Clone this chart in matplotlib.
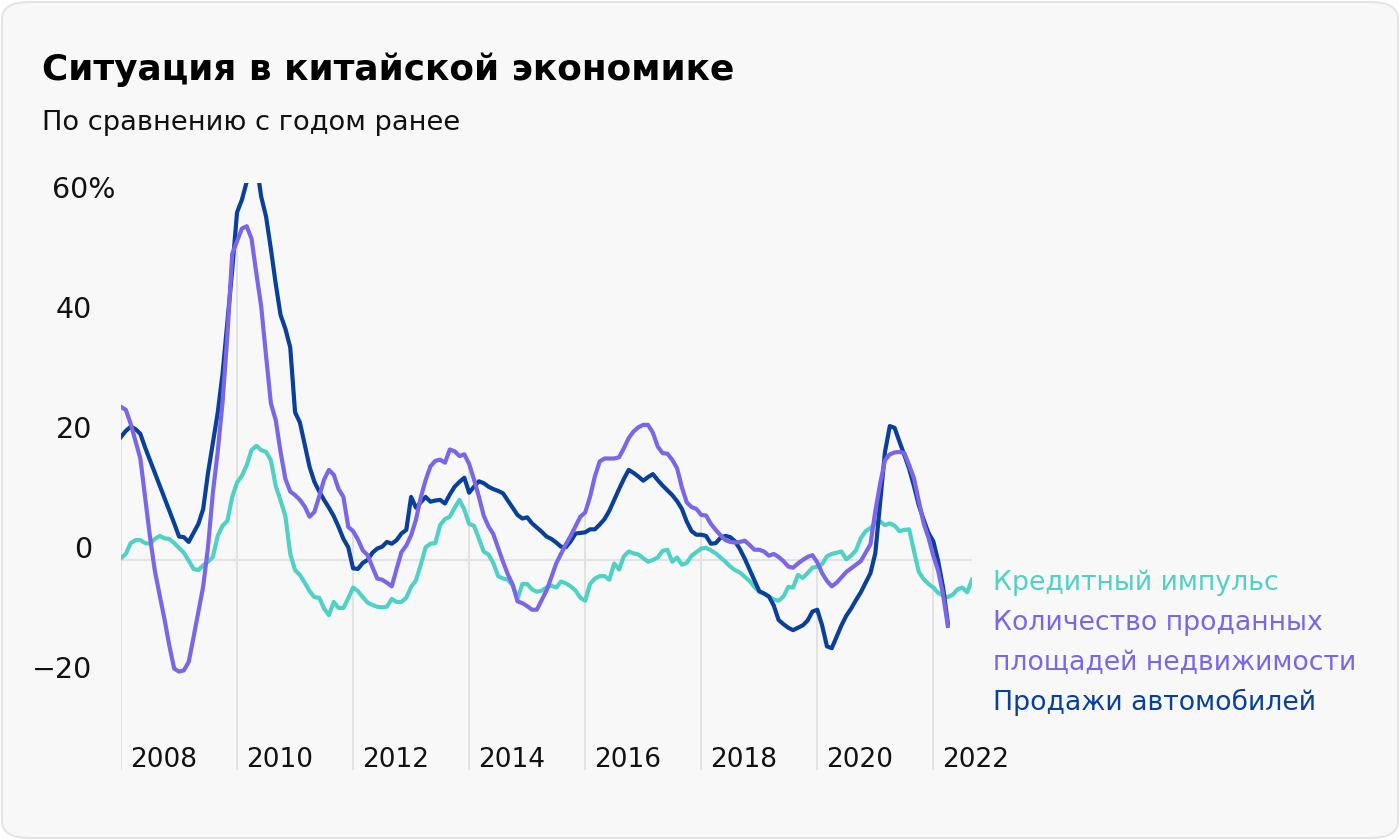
import matplotlib
matplotlib.use('Agg')
from matplotlib import pyplot as plt
from matplotlib.patches import FancyBboxPatch
import numpy as np

# monthly y/y changes, %, starting Jan 2008
credit_impulse = [0.3, 1.0, 2.8, 3.3, 3.3, 2.8, 2.7, 3.5, 4.0, 3.6, 3.5, 2.8,
                  2.0, 1.2, -0.1, -1.5, -1.7, -0.9, -0.3, 0.5, 4.0, 5.7, 6.5, 10.5,
                  12.9, 14.0, 15.8, 18.3, 19.0, 18.3, 18.0, 16.6, 12.3, 9.9, 7.3, 1.0,
                  -1.7, -2.5, -3.8, -5.2, -6.2, -6.3, -8.1, -9.2, -7.0, -8.0, -8.0, -6.4,
                  -4.6, -5.2, -6.2, -7.1, -7.5, -7.8, -7.9, -7.8, -6.5, -7.0, -7.0, -6.3,
                  -4.5, -3.4, -0.8, 2.1, 2.7, 2.8, 5.8, 6.8, 7.2, 8.7, 10.0, 8.4,
                  6.0, 5.7, 3.6, 1.4, 0.9, -0.5, -2.7, -3.1, -3.3, -4.2, -6.5, -4.0,
                  -4.0, -4.9, -5.3, -5.1, -4.6, -4.3, -4.6, -3.6, -3.9, -4.4, -5.1, -6.3,
                  -6.8, -4.0, -3.1, -2.7, -2.7, -3.3, -0.6, -1.6, 0.6, 1.4, 1.1, 0.9,
                  0.3, -0.3, 0.0, 0.4, 1.5, 1.7, -0.3, 0.4, -0.8, -0.5, 0.7, 1.3,
                  1.9, 2.0, 1.6, 1.1, 0.4, -0.3, -1.1, -1.7, -2.1, -2.8, -3.5, -4.5,
                  -5.3, -5.6, -6.1, -6.6, -6.8, -6.1, -4.5, -4.6, -2.5, -3.0, -2.2, -1.3,
                  -1.1, -0.7, 0.6, 1.0, 1.2, 1.4, 0.1, 0.7, 1.6, 3.6, 4.8, 5.3,
                  6.1, 6.4, 5.8, 6.1, 5.7, 4.8, 5.0, 5.1, 1.5, -2.0, -3.2, -4.0,
                  -4.6, -5.5, -5.9, -6.2, -5.8, -4.9, -4.6, -5.4, -3.3]

property_sales = [25.5, 25.0, 22.7, 19.8, 16.9, 10.4, 3.8, -1.8, -5.9, -9.9, -14.3, -18.1,
                  -18.6, -18.4, -17.0, -12.9, -8.6, -4.4, 2.2, 11.2, 18.0, 26.2, 37.4, 51.0,
                  53.1, 55.2, 55.6, 53.5, 47.7, 42.2, 34.0, 26.1, 23.3, 18.0, 13.5, 11.4,
                  10.8, 10.0, 8.9, 7.2, 8.0, 10.6, 13.4, 15.0, 14.2, 11.8, 10.5, 5.5,
                  4.8, 3.4, 1.6, 0.8, -1.2, -3.1, -3.3, -3.8, -4.4, -1.5, 1.3, 2.4,
                  4.1, 6.7, 10.4, 13.3, 15.6, 16.5, 16.7, 16.2, 18.4, 18.1, 17.3, 17.6,
                  16.0, 13.4, 10.6, 7.4, 5.6, 4.3, 2.0, -0.3, -2.4, -4.1, -6.9, -7.2,
                  -7.7, -8.3, -8.3, -6.7, -5.1, -2.9, -0.6, 1.0, 2.6, 4.0, 5.6, 7.2,
                  7.9, 10.5, 13.9, 16.4, 16.9, 16.9, 16.9, 17.1, 18.6, 20.3, 21.4, 22.1,
                  22.5, 22.5, 21.2, 18.9, 17.8, 17.7, 16.7, 15.3, 12.1, 9.6, 8.8, 8.5,
                  7.5, 7.4, 6.0, 5.0, 4.1, 3.3, 3.0, 2.9, 3.0, 3.2, 2.5, 1.7,
                  1.7, 1.4, 0.7, 1.0, 0.5, -0.2, -1.1, -1.3, -0.6, 0.0, 0.5, 0.8,
                  -0.4, -2.2, -3.5, -4.4, -3.8, -2.9, -2.0, -1.4, -0.8, -0.2, 1.2, 2.6,
                  8.1, 12.7, 16.6, 17.6, 17.9, 18.0, 17.8, 15.8, 13.6, 9.8, 6.1, 3.7,
                  0.7, -1.8, -5.7, -11.0]

car_sales = [20.5, 21.5, 22.2, 21.8, 21.0, 18.7, 16.6, 14.5, 12.4, 10.3, 8.2, 6.1,
             3.9, 3.8, 3.0, 4.5, 6.0, 8.5, 14.5, 19.5, 24.5, 31.0, 39.6, 48.3,
             57.9, 60.0, 63.0, 68.0, 66.0, 60.5, 57.2, 51.8, 46.0, 40.8, 38.5, 35.4,
             24.6, 22.9, 19.2, 15.5, 13.0, 11.4, 10.0, 8.7, 7.3, 5.5, 3.5, 2.1,
             -1.4, -1.5, -0.5, 0.0, 1.2, 1.9, 2.2, 3.0, 2.7, 3.3, 4.4, 5.0,
             10.5, 8.7, 9.6, 10.5, 9.7, 9.9, 10.0, 9.4, 10.9, 12.2, 13.0, 13.7,
             11.2, 12.2, 13.1, 12.8, 12.2, 11.8, 11.5, 11.1, 9.9, 8.7, 7.5, 6.9,
             7.1, 6.1, 5.4, 4.7, 3.9, 3.5, 2.9, 2.2, 2.1, 3.1, 4.4, 4.5,
             4.6, 5.1, 5.1, 5.9, 6.8, 8.2, 10.0, 11.8, 13.5, 15.0, 14.5, 13.9,
             13.2, 13.8, 14.3, 13.3, 12.4, 11.6, 10.8, 9.8, 8.5, 6.4, 4.8, 4.2,
             4.2, 4.0, 2.7, 2.8, 3.7, 4.0, 3.8, 3.1, 1.8, 0.2, -1.6, -3.4,
             -5.2, -5.6, -6.1, -7.6, -10.0, -10.7, -11.3, -11.7, -11.3, -10.9, -10.1, -8.6,
             -8.3, -10.9, -14.4, -14.7, -12.8, -10.9, -9.3, -8.1, -6.7, -5.4, -3.8, -2.2,
             1.1, 9.6, 18.0, 22.3, 22.0, 19.7, 17.5, 15.2, 12.3, 9.1, 6.7, 4.5,
             3.1, -0.2, -4.5, -10.5]

start_year = 2008
year_ticks = [2008, 2010, 2012, 2014, 2016, 2018, 2020, 2022]
y_ticks = [-20, 0, 20, 40, 60]
y_tick_labels = ['−20', '0', '20', '40', '60%']

legend_lines = ['Кредитный импульс', 'Количество проданных', 'площадей недвижимости', 'Продажи автомобилей']

TEAL = '#4fd1c5'
PURPLE = '#7b66e6'
NAVY = '#08409a'
GRID = '#e2e2e2'

plt.rcParams['font.family'] = ['DejaVu Sans']

W, H = 1400, 840
fig = plt.figure(figsize=(W / 100, H / 100), dpi=100)
fig.patch.set_facecolor('white')
fig.patches.append(FancyBboxPatch((2 / W, 2 / H), 1 - 4 / W, 1 - 4 / H,
                                  boxstyle='round,pad=0,rounding_size=0.02',
                                  transform=fig.transFigure, facecolor='#f8f8f8',
                                  edgecolor='#e4e4e4', linewidth=1.5, zorder=-10))

left, right, top, bottom = 121, 972, 183, 770
ax = fig.add_axes([left / W, 1 - bottom / H, (right - left) / W, (bottom - top) / H])
ax.set_facecolor('none')
ymin, ymax = -35, 62.8
ax.set_ylim(ymin, ymax)
ax.set_xlim(start_year, start_year + 176 / 12)


def months(series):
    return start_year + np.arange(len(series)) / 12


# zero line and year drop-lines
ax.axhline(0, color=GRID, lw=1.5, zorder=1)
for yr in year_ticks:
    idx = (yr - start_year) * 12
    top_val = max(s[idx] for s in (credit_impulse, property_sales, car_sales) if idx < len(s))
    ax.plot([yr, yr], [ymin, top_val], color=GRID, lw=1.5, zorder=1, solid_capstyle='butt')

ax.plot(months(credit_impulse), credit_impulse, color=TEAL, lw=3.0, zorder=3)
ax.plot(months(car_sales), car_sales, color=NAVY, lw=3.0, zorder=4)
ax.plot(months(property_sales), property_sales, color=PURPLE, lw=3.0, zorder=5)

for s in ax.spines.values():
    s.set_visible(False)
ax.set_xticks([])
ax.set_yticks([])

for yr in year_ticks:
    ax.annotate(str(yr), xy=(yr, ymin), xytext=(6.5, 7.2), textcoords='offset points',
                ha='left', va='center', fontsize=19, color='#111111', annotation_clip=False)

for v, lab in zip(y_ticks, y_tick_labels):
    dx = -4.3 if lab.endswith('%') else -20.9
    ax.annotate(lab, xy=(0, v), xycoords=('axes fraction', 'data'), xytext=(dx, 7.2),
                textcoords='offset points', ha='right', va='center', fontsize=20.5,
                color='#111111', annotation_clip=False)

fig.text(42 / W, 1 - 80 / H, 'Ситуация в китайской экономике', fontsize=25.8,
         fontweight='bold', color='#000000', va='baseline', ha='left')
fig.text(42 / W, 1 - 130 / H, 'По сравнению с годом ранее', fontsize=19.6,
         color='#111111', va='baseline', ha='left')

for k, (txt, col) in enumerate(zip(legend_lines, [TEAL, PURPLE, PURPLE, NAVY])):
    fig.text(993 / W, 1 - (590 + 40 * k) / H, txt, fontsize=19.3, color=col,
             va='baseline', ha='left')

fig.savefig('out.png', dpi=100, facecolor=fig.get_facecolor())
